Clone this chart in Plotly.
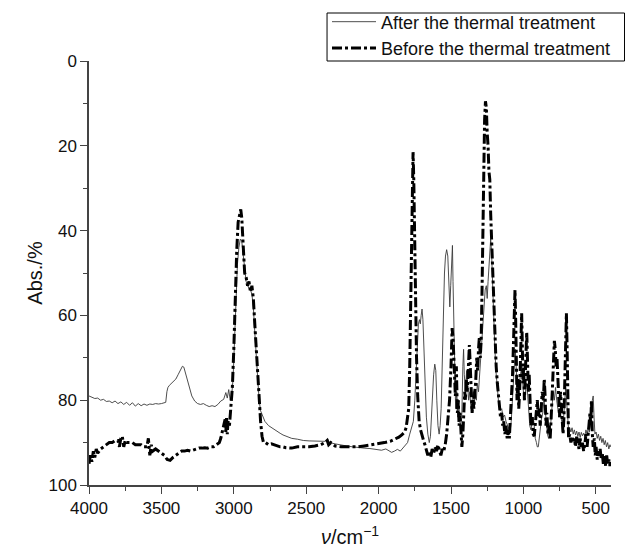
import plotly.graph_objects as go

# ---- Data ----
wn_before = [4000, 3990, 3980, 3970, 3960, 3950, 3940, 3920, 3900, 3880, 3860, 3840, 3820, 3800, 3790, 3780,
             3770, 3760, 3750, 3740, 3720, 3700, 3680, 3660, 3640, 3620, 3600, 3590, 3580, 3570, 3560, 3540,
             3520, 3500, 3480, 3460, 3440, 3420, 3400, 3380, 3360, 3340, 3320, 3300, 3280, 3260, 3240, 3220,
             3200, 3180, 3160, 3140, 3120, 3100, 3090, 3080, 3070, 3060, 3055, 3050, 3045, 3040, 3030, 3020,
             3010, 3000, 2990, 2980, 2970, 2960, 2952, 2945, 2935, 2925, 2915, 2905, 2895, 2885, 2875, 2865,
             2855, 2845, 2835, 2825, 2815, 2805, 2795, 2780, 2760, 2740, 2720, 2700, 2680, 2660, 2640, 2600,
             2560, 2520, 2480, 2440, 2400, 2370, 2355, 2345, 2330, 2300, 2260, 2220, 2180, 2140, 2100, 2060,
             2020, 2000, 1960, 1920, 1900, 1880, 1860, 1840, 1820, 1810, 1800, 1792, 1785, 1778, 1772, 1767,
             1762, 1757, 1752, 1745, 1738, 1730, 1720, 1710, 1700, 1690, 1680, 1670, 1660, 1650, 1640, 1630,
             1620, 1610, 1600, 1590, 1580, 1570, 1560, 1550, 1540, 1530, 1520, 1510, 1500, 1492, 1485, 1478,
             1470, 1463, 1456, 1450, 1444, 1438, 1432, 1425, 1418, 1412, 1405, 1400, 1395, 1388, 1380, 1373,
             1367, 1360, 1354, 1348, 1342, 1336, 1330, 1322, 1316, 1310, 1304, 1298, 1292, 1286, 1280, 1274,
             1268, 1262, 1256, 1250, 1244, 1238, 1232, 1226, 1220, 1214, 1208, 1202, 1195, 1188, 1180, 1172,
             1165, 1158, 1150, 1143, 1136, 1128, 1120, 1112, 1104, 1097, 1090, 1082, 1075, 1068, 1062, 1058,
             1054, 1049, 1044, 1038, 1032, 1026, 1020, 1015, 1012, 1008, 1003, 998, 993, 987, 982, 977,
             972, 966, 960, 954, 948, 940, 932, 925, 918, 910, 904, 898, 890, 884, 878, 870,
             862, 856, 850, 844, 838, 830, 822, 815, 808, 800, 793, 786, 780, 774, 768, 762,
             756, 750, 744, 738, 732, 726, 720, 714, 708, 703, 698, 693, 688, 680, 672, 664,
             656, 648, 640, 632, 624, 616, 608, 600, 592, 584, 576, 568, 560, 552, 545, 540,
             535, 530, 524, 518, 510, 504, 498, 490, 484, 478, 470, 462, 455, 448, 440, 432,
             425, 418, 410, 402, 398]
abs_before = [95, 93, 94.5, 92, 93.5, 91.5, 92.5, 91.5, 91, 90.5, 90, 90, 89.5, 89.5, 91, 89,
              88.5, 91, 89.5, 90, 90, 90, 90.5, 90.5, 90.5, 91, 91, 89, 93, 90.5, 92, 91.5,
              92, 92.5, 93, 94, 94.2, 93.5, 93, 92.5, 92, 92, 91.8, 92, 91.8, 91.5, 91.3, 91.3,
              91.2, 91.3, 91, 91, 90.5, 90, 89, 87.5, 86, 84.5, 87.5, 84, 88, 85, 86, 82,
              77, 68, 55, 45, 38, 36, 35, 37, 43, 50, 51, 53, 52, 54.5, 53, 56,
              62, 68, 74, 80, 85, 88.5, 90, 90, 90.5, 90.3, 90.5, 90.8, 91, 91, 91.2, 91.3,
              91, 91, 91, 90.8, 90.5, 90, 89.5, 90.5, 90, 90.8, 91, 91, 91, 91, 90.8, 90.6,
              90.4, 90.2, 90, 89.7, 89.4, 89, 88.7, 88.2, 87.5, 86.5, 84.5, 82, 72, 55, 38, 26,
              21.5, 28, 42, 58, 70, 79, 85, 87, 88.5, 89.5, 90.5, 91.5, 93, 92, 93.5, 91.5,
              92.5, 91, 92, 90.5, 92, 93, 91.5, 92, 90.5, 88, 84, 80, 72, 63, 66, 74,
              79, 72, 83, 80, 86, 83, 89, 91, 88, 83, 78, 80, 75, 78, 71, 67,
              72, 78, 83, 80, 82, 78, 76, 70, 73, 68, 65, 70, 66, 55, 38, 24,
              14, 9.5, 11, 17, 20, 26, 28, 36, 42, 50, 55, 62, 68, 72, 76, 79,
              82, 84, 83, 86, 85, 88, 86, 89, 87, 89, 84, 80, 74, 66, 58, 54,
              60, 72, 80, 75, 82, 78, 70, 62, 59.5, 66, 76, 72, 80, 74, 68, 64,
              70, 78, 74, 82, 86, 84, 88, 88.5, 86, 83, 80, 84, 82, 86, 82, 78,
              80, 75, 79, 86, 83, 88, 86, 89, 84, 78, 70, 66, 68, 72, 70, 74,
              80, 84, 78, 82, 86, 88, 84, 76, 66, 59.5, 68, 82, 89, 88, 90, 88.5,
              90, 89, 91, 88.6, 90, 91.5, 89, 91, 90, 92, 90.5, 88, 91, 87, 85, 83,
              86, 80, 88, 91, 89, 93, 91, 94, 92, 93.5, 91.5, 94, 92.5, 95, 93, 95.5,
              93, 95, 94, 95.5, 94.5]

wn_after = [4000, 3980, 3960, 3940, 3920, 3900, 3880, 3860, 3840, 3820, 3800, 3780, 3760, 3740, 3720, 3700,
            3680, 3660, 3640, 3620, 3600, 3580, 3560, 3540, 3520, 3500, 3480, 3470, 3462, 3455, 3445, 3430,
            3415, 3400, 3385, 3370, 3355, 3345, 3335, 3320, 3305, 3290, 3270, 3250, 3230, 3210, 3190, 3170,
            3150, 3130, 3110, 3090, 3070, 3055, 3045, 3035, 3025, 3015, 3005, 2995, 2985, 2975, 2965, 2955,
            2945, 2935, 2925, 2915, 2905, 2895, 2885, 2875, 2865, 2855, 2845, 2835, 2825, 2815, 2800, 2785,
            2760, 2740, 2720, 2700, 2680, 2660, 2640, 2600, 2560, 2520, 2480, 2440, 2400, 2370, 2350, 2340,
            2300, 2260, 2220, 2180, 2140, 2100, 2060, 2020, 1980, 1950, 1930, 1910, 1890, 1870, 1850, 1830,
            1815, 1800, 1785, 1770, 1760, 1750, 1740, 1732, 1725, 1718, 1712, 1706, 1700, 1694, 1688, 1680,
            1670, 1660, 1650, 1642, 1635, 1628, 1620, 1612, 1605, 1598, 1590, 1582, 1575, 1568, 1560, 1552,
            1545, 1538, 1530, 1522, 1515, 1508, 1502, 1495, 1490, 1486, 1480, 1474, 1468, 1460, 1453, 1446,
            1440, 1432, 1425, 1418, 1413, 1408, 1400, 1392, 1385, 1378, 1370, 1362, 1354, 1346, 1340, 1332,
            1325, 1318, 1310, 1302, 1295, 1288, 1280, 1272, 1264, 1256, 1250, 1244, 1238, 1232, 1226, 1220,
            1214, 1206, 1198, 1190, 1180, 1170, 1160, 1150, 1140, 1130, 1120, 1110, 1100, 1092, 1084, 1076,
            1068, 1062, 1056, 1050, 1044, 1036, 1028, 1020, 1012, 1004, 996, 988, 980, 972, 964, 956,
            948, 940, 932, 925, 918, 910, 904, 897, 890, 882, 874, 866, 858, 850, 842, 834,
            826, 818, 810, 802, 794, 786, 778, 770, 762, 754, 746, 738, 730, 722, 714, 708,
            702, 696, 688, 680, 672, 664, 656, 648, 640, 632, 624, 616, 608, 600, 592, 584,
            576, 568, 560, 552, 545, 538, 530, 524, 518, 512, 506, 498, 490, 482, 474, 466,
            458, 450, 442, 434, 426, 418, 410, 402, 398]
abs_after = [79, 79.3, 79.6, 79.5, 80, 79.8, 80.3, 80.2, 80.6, 80.2, 80.8, 80.4, 81, 80.5, 81.2, 80.6,
             81.4, 80.8, 81.3, 80.9, 81.2, 80.9, 81, 80.8, 80.9, 80.8, 80.7, 80.5, 78, 77, 76.5, 76,
             75.5, 75, 74, 72.8, 72, 72.2, 73.5, 75.5, 77.5, 79, 80.2, 80.8, 81, 80.8, 81.2, 81.5,
             81.3, 81.5, 81, 80.2, 79.8, 78.2, 79.5, 77.5, 80, 79, 75, 66, 56, 48, 44, 42,
             42.5, 46, 50, 52, 53, 53.5, 54, 55, 58, 64, 70, 76, 80, 82.5, 84, 85,
             86, 86.5, 87, 87.3, 87.8, 88.2, 88.5, 89, 89.2, 89.5, 89.6, 89.7, 89.8, 89.7, 89.2, 90,
             90.3, 90.6, 90.8, 91, 91.2, 91.3, 91.4, 91.6, 91.8, 91.5, 92, 92.3, 92, 91.6, 92, 91.2,
             90.5, 90, 88, 86.5, 85, 80, 72, 66, 62, 61, 62, 60, 58.5, 61, 68, 76,
             84, 88, 90, 88.5, 84, 78, 74, 71.5, 73, 80, 86, 88, 86, 82, 70, 58,
             50, 46, 44.5, 46, 52, 58, 53, 44, 43.5, 52, 66, 76, 82, 78, 84, 80,
             85, 86, 83, 72, 68, 74, 78, 73, 76, 80, 78, 82, 80, 78, 81, 78,
             80, 76, 78, 74, 72, 68, 63, 58, 54, 53, 56, 52, 48, 44, 42, 45,
             52, 60, 67, 73, 78, 81, 82.5, 82, 84, 83.5, 85, 86, 87, 87.5, 85, 80,
             74, 70, 68, 72, 77, 78, 76, 73, 72, 76, 80, 79, 76, 78, 82, 86,
             87, 85, 84, 86, 89, 90, 91, 91, 89, 86, 84, 83, 80, 82, 85, 88,
             89, 88, 85, 82, 78, 80, 77, 80, 82, 84, 83, 85, 86, 84, 80, 77,
             80, 84, 87, 86.5, 87.5, 86.5, 88, 87, 88.2, 87.3, 88.5, 87.5, 88.8, 87.6, 88.4, 87.8,
             88.5, 87, 88, 86.5, 87.5, 86, 84, 80, 79, 84, 88, 87.5, 89, 88, 89.5, 88.5,
             90, 89, 90.5, 89.5, 91, 90, 91.5, 90.5, 91]

x_ticks = [4000, 3500, 3000, 2500, 2000, 1500, 1000, 500]
y_ticks = [0, 20, 40, 60, 80, 100]

FONT = "Liberation Sans, Arial, Helvetica, sans-serif"
AX = "#444444"

fig = go.Figure()
fig.add_trace(go.Scatter(
    x=wn_after, y=abs_after, mode="lines", name="After the thermal treatment",
    line=dict(color="#3a3a3a", width=0.9)))
fig.add_trace(go.Scatter(
    x=wn_before, y=abs_before, mode="lines", name="Before the thermal treatment",
    line=dict(color="black", width=3, dash="10px,3px,3px,3px")))

# legend frame (drawn as a paper-referenced rectangle, like the reference box)
fig.add_shape(type="rect", xref="paper", yref="paper",
              x0=0.456, x1=1.0259, y0=1.0, y1=1.1132,
              line=dict(color="black", width=1), fillcolor="white", layer="above")

fig.update_layout(
    width=625, height=552,
    margin=dict(l=89, r=14, t=61, b=67, autoexpand=False),
    paper_bgcolor="white", plot_bgcolor="white",
    font=dict(family=FONT, color="#111111", size=17),
    showlegend=True,
    legend=dict(x=0.5232, xanchor="left", xref="container",
                y=0.9937, yanchor="top", yref="container",
                borderwidth=0, bgcolor="rgba(0,0,0,0)",
                font=dict(size=18, family=FONT), itemwidth=44,
                tracegroupgap=0),
    xaxis=dict(range=[4000, 395], tickvals=x_ticks, ticktext=[str(v) for v in x_ticks],
               ticks="outside", ticklen=7, tickwidth=1.2, tickcolor=AX,
               showline=True, linecolor=AX, linewidth=1.5,
               showgrid=False, zeroline=False,
               minor=dict(dtick=250, tick0=0, ticks="outside", ticklen=4, tickcolor=AX, tickwidth=1.2),
               tickfont=dict(size=17, family=FONT),
               title=dict(text="<i>ν</i>/cm<sup>−1</sup>", font=dict(size=20, family=FONT), standoff=13)),
    yaxis=dict(range=[100, 0], tickvals=y_ticks, ticktext=[str(v) for v in y_ticks],
               ticks="outside", ticklen=7, tickwidth=1.2, tickcolor=AX,
               showline=True, linecolor=AX, linewidth=1.5,
               showgrid=False, zeroline=False,
               minor=dict(dtick=10, tick0=0, ticks="outside", ticklen=4, tickcolor=AX, tickwidth=1.2),
               tickfont=dict(size=17, family=FONT),
               title=dict(text="Abs./%", font=dict(size=20, family=FONT), standoff=0)),
)

fig.write_html("out.html", config={"displayModeBar": False},
               post_script="document.body.style.margin='0';document.body.style.overflow='hidden';")
